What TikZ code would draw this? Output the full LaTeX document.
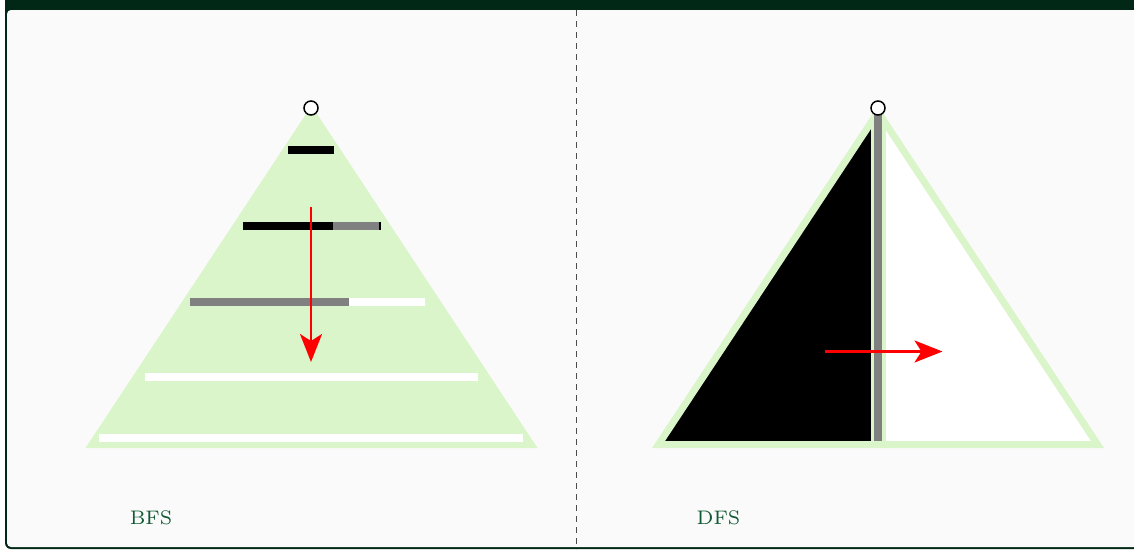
\documentclass[tikz,border=0pt]{standalone}
\usetikzlibrary{arrows.meta}
\definecolor{framec}{RGB}{1,40,22}
\definecolor{bgc}{RGB}{250,250,250}
\definecolor{lgreen}{RGB}{219,245,203}
\definecolor{labc}{RGB}{18,90,52}
\begin{document}
\begin{tikzpicture}[x=1pt,y=-1pt,
  redarrow/.style={red, line width=2.5pt, -{Stealth[length=28pt,width=22pt,inset=7pt]}},
  rootnode/.style={circle, draw=black, fill=white, line width=1.5pt, minimum size=14pt, inner sep=0pt},
  labeltext/.style={text=labc, font=\fontsize{7}{8}\selectfont, inner sep=0pt},
  sep/.style={draw=black!70, line width=0.9pt, dash pattern=on 6pt off 5pt}]
\useasboundingbox (0,0) rectangle (1134,549);
% frame
\fill[framec, rounded corners=6pt] (5,-20) rectangle (1170,549);
\fill[bgc, rounded corners=4pt] (7,10) rectangle (1170,547);
% separator
\coordinate (s1) at (576,10);
\coordinate (s2) at (576,549);
\draw[sep] (s1) -- (s2);
% BFS triangle
\path[fill=lgreen, draw=lgreen, line width=7pt] (311.5,112) -- (531,444.5) -- (92,444.5) -- cycle;
% BFS bars
\fill[black] (288,146) rectangle (334,154);
\fill[black] (243,222) rectangle (333,230);
\fill[gray] (333,222) rectangle (379,230);
\fill[black] (379,222) rectangle (380.5,230);
\fill[gray] (190,298) rectangle (349,306);
\fill[white] (349,298) rectangle (425,306);
\fill[white] (145,373) rectangle (478,381);
\fill[white] (99,434) rectangle (523,442);
% BFS arrow
\coordinate (b1) at (311,207);
\coordinate (b2) at (311,362);
\draw[redarrow] (b1) -- (b2);
\node[rootnode] (r1) at (311,108) {};
% DFS triangle
\begin{scope}
\clip (878,112) -- (1097.5,444.5) -- (658.5,444.5) -- cycle;
\fill[lgreen] (600,100) rectangle (1150,460);
\fill[black] (600,100) rectangle (871,460);
\fill[white] (886,100) rectangle (1150,460);
\end{scope}
\draw[lgreen, line width=7pt] (878,112) -- (1097.5,444.5) -- (658.5,444.5) -- cycle;
\fill[gray] (873.5,114) rectangle (882,441);
\coordinate (d1) at (825,351.5);
\coordinate (d2) at (942.5,351.5);
\draw[redarrow] (d1) -- (d2);
\node[rootnode] (r2) at (878,108) {};
% labels
\node[labeltext] (bfs) at (151,518) {\scalebox{2.8}{BFS}};
\node[labeltext] (dfs) at (718.5,518) {\scalebox{2.8}{DFS}};
\end{tikzpicture}
\end{document}
